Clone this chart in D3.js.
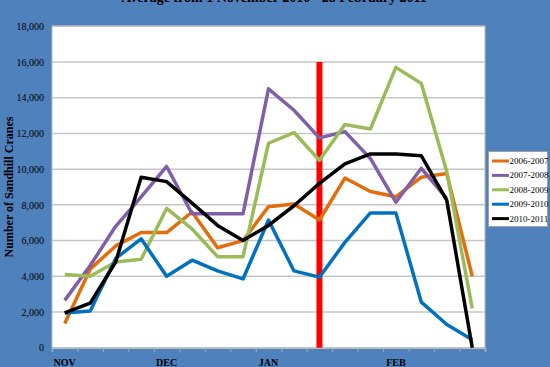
<!DOCTYPE html>
<html>
<head>
<meta charset="utf-8">
<script src="https://cdn.jsdelivr.net/npm/d3@7"></script>
<style>
body { margin:0; background:#4f81bd; }
svg { display:block; font-family:"Liberation Serif", "DejaVu Serif", serif; }
</style>
</head>
<body>
<svg></svg>
<script>
// week slots, labelled by month
var weeks = ["NOV","","","","DEC","","","","JAN","","","","","FEB","","",""]

var seasons = ["2006-2007","2007-2008","2008-2009","2009-2010","2010-2011"]
var colors = ["#e46c0a","#7f5fa8","#9bbb59","#0070c0","#000000"]

var s0607 = [1350,4400,5700,6450,6450,7600,5600,6000,7900,8050,7150,9500,8750,8450,9550,9750,4000]
var s0708 = [2650,4600,6800,8450,10150,7500,7500,7500,14500,13300,11750,12100,10600,8150,10050,8350,null]
var s0809 = [4100,4000,4800,4950,7800,6650,5100,5100,11450,12050,10500,12500,12250,15700,14800,9850,2200]
var s0910 = [1950,2050,5000,6100,4000,4900,4300,3850,7150,4300,3950,5900,7550,7550,2550,1300,450]
var s1011 = [1950,2500,4800,9550,9300,8100,6850,6000,6850,7950,9200,10300,10850,10850,10750,8250,0]

var yTicks = [0,2000,4000,6000,8000,10000,12000,14000,16000,18000]
var markerWeek = 10
var markerTop = 16000

var title = "Average from 1 November 2010 - 28 February 2011"
var yTitle = "Number of Sandhill Cranes"

var screen = {width:550,height:367}
var plot = {left:52,right:485,top:26.3,bottom:347.7}

var svg = d3.select("svg")
    .attr("width",screen.width)
    .attr("height",screen.height)

var xScale = d3.scaleLinear()
                .domain([0,weeks.length])
                .range([plot.left,plot.right])

var yScale = d3.scaleLinear()
                .domain([0,18000])
                .range([plot.bottom,plot.top])

// white plot area
svg.append("rect")
    .attr("x",plot.left)
    .attr("y",plot.top)
    .attr("width",plot.right-plot.left)
    .attr("height",plot.bottom-plot.top)
    .attr("fill","white")
    .attr("stroke","#b9b9b9")
    .attr("stroke-width",1)

// gridlines
svg.append("g")
    .selectAll("line")
    .data(yTicks.slice(1))
    .enter()
    .append("line")
    .attr("x1",plot.left)
    .attr("x2",plot.right)
    .attr("y1",function(d){return yScale(d)})
    .attr("y2",function(d){return yScale(d)})
    .attr("stroke","#c6c6c6")
    .attr("stroke-width",1.5)

var yAxis = d3.axisLeft(yScale)
                .tickValues(yTicks)
                .tickFormat(d3.format(","))
                .tickSize(0)
                .tickPadding(8)

svg.append("g")
    .attr("transform","translate("+plot.left+",0)")
    .call(yAxis)
    .call(function(g){g.select(".domain").remove()})
    .selectAll("text")
    .attr("font-family","Liberation Serif")
    .attr("font-size",10)
    .attr("fill","black")

var xAxis = d3.axisBottom(xScale)
                .tickValues(d3.range(weeks.length+1))
                .tickFormat("")
                .tickSize(4)

svg.append("g")
    .attr("transform","translate(0,"+plot.bottom+")")
    .call(xAxis)
    .call(function(g){
        g.select(".domain").attr("stroke","#bdbdbd").attr("stroke-width",1.5)
        g.selectAll(".tick line").attr("stroke","#9db3d6")
    })

svg.append("g")
    .selectAll("text")
    .data(weeks)
    .enter()
    .append("text")
    .attr("x",function(d,i){return xScale(i+0.5)})
    .attr("y",365.5)
    .attr("text-anchor","middle")
    .attr("font-size",10)
    .attr("font-weight","bold")
    .attr("fill","black")
    .text(function(d){return d})

// red marker line
svg.append("line")
    .attr("x1",xScale(markerWeek+0.5))
    .attr("x2",xScale(markerWeek+0.5))
    .attr("y1",yScale(markerTop))
    .attr("y2",yScale(0))
    .attr("stroke","#ff0000")
    .attr("stroke-width",6)

var lineGenerator = d3.line()
    .defined(function(d){return d!=null})
    .x(function(d,i){return xScale(i+0.5)})
    .y(function(d){return yScale(d)})

var allSeries = [s0607,s0708,s0809,s0910,s1011]

svg.append("g")
    .attr("fill","none")
    .attr("stroke-width",3.5)
    .attr("stroke-linejoin","round")
    .selectAll("path")
    .data(allSeries)
    .enter()
    .append("path")
    .attr("stroke",function(d,i){return colors[i]})
    .attr("d",lineGenerator)

// titles (the chart title sits mostly above the picture's top edge)
svg.append("text")
    .attr("x",274)
    .attr("y",2)
    .attr("text-anchor","middle")
    .attr("font-size",14)
    .attr("font-weight","bold")
    .text(title)

svg.append("text")
    .attr("transform","translate(13,187) rotate(-90)")
    .attr("text-anchor","middle")
    .attr("font-size",12)
    .attr("font-weight","bold")
    .text(yTitle)

// legend
var legend = svg.append("g")

legend.append("rect")
    .attr("x",488.5)
    .attr("y",151.5)
    .attr("width",59)
    .attr("height",75)
    .attr("fill","white")
    .attr("stroke","#a0a0a0")

var items = legend.selectAll("g.item")
    .data(seasons)
    .enter()
    .append("g")
    .attr("class","item")
    .attr("transform",function(d,i){return "translate(0,"+(161+i*14.4)+")"})

items.append("line")
    .attr("x1",492)
    .attr("x2",509)
    .attr("stroke",function(d,i){return colors[i]})
    .attr("stroke-width",3)

items.append("text")
    .attr("x",509.5)
    .attr("y",3)
    .attr("font-size",9)
    .attr("fill","black")
    .text(function(d){return d})
</script>
</body>
</html>
